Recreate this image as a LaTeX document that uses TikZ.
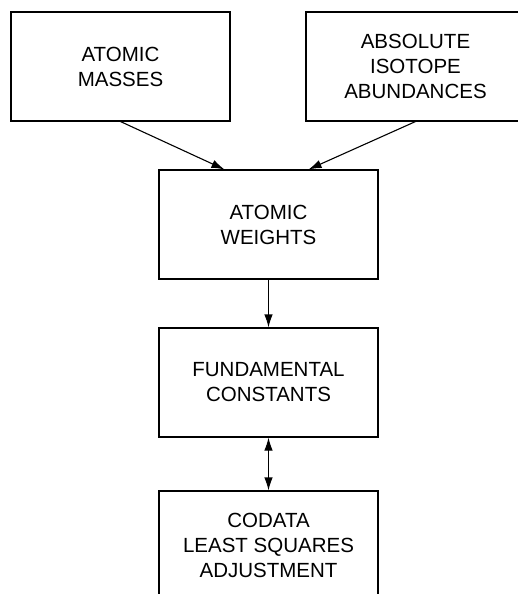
\documentclass[tikz,border=0pt]{standalone}
\usepackage{fontspec}
\setmainfont{Liberation Sans}
\usetikzlibrary{arrows.meta}
\tikzset{
  block/.style={draw, line width=1.1pt, minimum width=219pt, minimum height=109pt,
    align=center, inner sep=0pt, font=\fontsize{20.5}{25}\selectfont},
  tip/.tip={Latex[length=13pt,width=8.5pt]},
  link/.style={line width=1.1pt, -tip}
}
\begin{document}
\begin{tikzpicture}[x=1pt, y=-1pt]
  \useasboundingbox (0,0) rectangle (517,594);
  % Define nodes
  \node[block] (masses) at (120.5,66.5) {ATOMIC\\MASSES};
  \node[block] (abund) at (415.5,66.5) {ABSOLUTE\\ISOTOPE\\ABUNDANCES};
  \node[block] (weights) at (268.5,224.5) {ATOMIC\\WEIGHTS};
  \node[block] (consts) at (268.5,382.5) {FUNDAMENTAL\\CONSTANTS};
  \node[block] (codata) at (268.5,545.5) {CODATA\\LEAST SQUARES\\ADJUSTMENT};

  % Draw edges
  \draw[link] (masses.south) -- ([xshift=66pt]weights.north west);
  \draw[link] (abund.south) -- ([xshift=-70pt]weights.north east);
  \draw[link] (weights) -- (consts);
  \draw[link, tip-tip] (consts) -- (codata);
\end{tikzpicture}
\end{document}
